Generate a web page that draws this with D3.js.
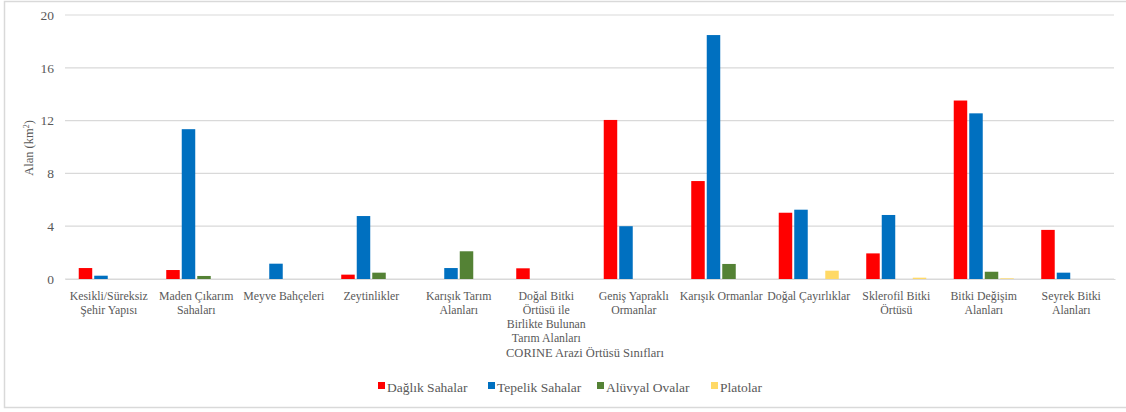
<!DOCTYPE html>
<html>
<head>
<meta charset="utf-8">
<script src="https://cdn.jsdelivr.net/npm/d3@7"></script>
<style>
  body { margin: 0; background: #fff; }
  svg text { font-family: "Liberation Serif", "DejaVu Serif", serif; }
</style>
</head>
<body>
<div id="root"></div>
<script>
// categories (x axis), with line breaks as in the original labels
var categories = [
  "Kesikli/Süreksiz\nŞehir Yapısı",
  "Maden Çıkarım\nSahaları",
  "Meyve Bahçeleri",
  "Zeytinlikler",
  "Karışık Tarım\nAlanları",
  "Doğal Bitki\nÖrtüsü ile\nBirlikte Bulunan\nTarım Alanları",
  "Geniş Yapraklı\nOrmanlar",
  "Karışık Ormanlar",
  "Doğal Çayırlıklar",
  "Sklerofil Bitki\nÖrtüsü",
  "Bitki Değişim\nAlanları",
  "Seyrek Bitki\nAlanları"
];

var seriesNames = ["Dağlık Sahalar", "Tepelik Sahalar", "Alüvyal Ovalar", "Platolar"];
var seriesColors = ["#ff0000", "#0070c0", "#548235", "#ffd966"];

// values in km2
var daglik  = [0.83, 0.68, 0,    0.33, 0,    0.81, 12.05, 7.42,  5.02, 1.94, 13.52, 3.72];
var tepelik = [0.25, 11.35, 1.16, 4.77, 0.83, 0,   4.0,   18.48, 5.25, 4.85, 12.55, 0.48];
var aluvyal = [0,    0.23, 0,    0.48, 2.1,  0,    0,     1.14,  0,    0,    0.55,  0];
var platolar = [0,   0,    0,    0,    0,    0,    0,     0,     0.63, 0.1,  0.05,  0];

var yTicks = [0, 4, 8, 12, 16, 20];

var serif = "'Liberation Serif', 'DejaVu Serif', serif";

function plotChart() {
    var width = 1126;
    var height = 412;

    var svg = d3.select("#root")
        .append("svg")
        .attr("width", width)
        .attr("height", height)
        .style("font-family", serif);

    // outer frame
    svg.append("rect")
        .attr("x", 4.5).attr("y", 1.5)
        .attr("width", 1130).attr("height", 406)
        .attr("fill", "#fff")
        .attr("stroke", "#d9d9d9")
        .attr("stroke-width", 1.5);

    var table = categories.map(function (c, i) {
        return { cat: c, values: [daglik[i], tepelik[i], aluvyal[i], platolar[i]] };
    });

    var x0 = d3.scaleBand().domain(categories).range([65, 1115])
        .paddingInner(0.314).paddingOuter(0.157);
    var x1 = d3.scaleBand().domain(d3.range(seriesNames.length))
        .range([0, x0.bandwidth()]).paddingInner(0.13);
    var y = d3.scaleLinear().domain([0, 20]).range([279, 15]);

    // gridlines
    svg.append("g").selectAll("line")
        .data(yTicks)
        .enter().append("line")
        .attr("x1", 65).attr("x2", 1114)
        .attr("y1", function (d) { return y(d); })
        .attr("y2", function (d) { return y(d); })
        .attr("stroke", "#d9d9d9")
        .attr("stroke-width", 1.2);

    // y axis labels
    var yAxis = svg.append("g")
        .attr("transform", "translate(54,0)")
        .call(d3.axisLeft(y).tickValues(yTicks).tickSize(0).tickPadding(0));
    yAxis.attr("font-family", null);
    yAxis.select(".domain").remove();
    yAxis.selectAll("text")
        .style("font-family", serif)
        .attr("font-size", 13.5)
        .attr("fill", "#595959");

    // bars
    var groups = svg.append("g").selectAll("g")
        .data(table)
        .enter().append("g")
        .attr("transform", function (d) { return "translate(" + x0(d.cat) + ",0)"; });

    groups.selectAll("rect")
        .data(function (d) { return d.values.map(function (v, k) { return { k: k, v: v }; }); })
        .enter().append("rect")
        .attr("x", function (d) { return x1(d.k); })
        .attr("width", x1.bandwidth())
        .attr("y", function (d) { return y(d.v); })
        .attr("height", function (d) { return y(0) - y(d.v); })
        .attr("fill", function (d) { return seriesColors[d.k]; });

    // x axis labels, multi-line
    var xAxis = svg.append("g")
        .attr("transform", "translate(0," + y(0) + ")")
        .call(d3.axisBottom(x0).tickSize(0).tickFormat(""));
    xAxis.attr("font-family", null);
    xAxis.select(".domain").attr("stroke", "#d9d9d9").attr("stroke-width", 1.2);
    xAxis.selectAll(".tick").each(function (d) {
        var t = d3.select(this).append("text")
            .style("font-family", serif)
            .attr("fill", "#595959")
            .attr("font-size", 11.8)
            .attr("text-anchor", "middle")
            .attr("y", 21);
        d.split("\n").forEach(function (line, i) {
            t.append("tspan").attr("x", 0).attr("dy", i === 0 ? 0 : 14).text(line);
        });
    });

    // axis titles
    svg.append("text")
        .attr("transform", "translate(33,148) rotate(-90)")
        .attr("text-anchor", "middle")
        .attr("font-size", 12.5)
        .attr("fill", "#595959")
        .html("Alan (km<tspan dy='-4' font-size='8'>2</tspan><tspan dy='4'>)</tspan>");

    svg.append("text")
        .attr("x", 585).attr("y", 357)
        .attr("text-anchor", "middle")
        .attr("font-size", 12.5)
        .attr("fill", "#595959")
        .text("CORINE Arazi Örtüsü Sınıfları");

    // legend
    var legendX = [378, 488, 597, 711];
    var legend = svg.append("g").selectAll("g")
        .data(seriesNames)
        .enter().append("g")
        .attr("transform", function (d, i) { return "translate(" + legendX[i] + ",388)"; });
    legend.append("rect")
        .attr("x", 0).attr("y", -6)
        .attr("width", 7).attr("height", 7)
        .attr("fill", function (d, i) { return seriesColors[i]; });
    legend.append("text")
        .attr("x", 9).attr("y", 1)
        .attr("dominant-baseline", "middle")
        .attr("font-size", 13.5)
        .attr("fill", "#595959")
        .text(function (d) { return d; });
}

plotChart();
</script>
</body>
</html>
